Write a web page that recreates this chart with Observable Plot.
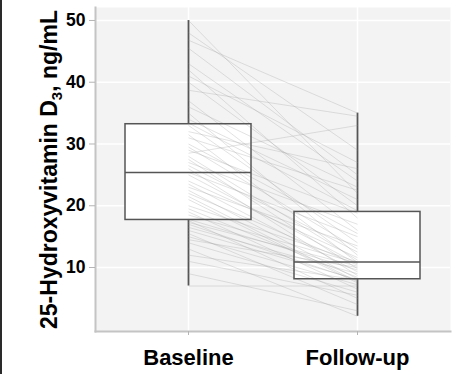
<!DOCTYPE html>
<html><head><meta charset="utf-8">
<script src="https://cdn.jsdelivr.net/npm/d3@7"></script>
<script src="https://cdn.jsdelivr.net/npm/@observablehq/plot@0.6"></script>
<style>
body{margin:0;background:#fff;}
#chart{position:relative;width:457px;height:374px;}
#edge{position:absolute;left:0;top:0;width:2px;height:374px;background:#2a2a2a;}
svg text{font-family:"Liberation Sans",Arial,sans-serif;}
</style></head><body><div id="chart"><div id="edge"></div></div>
<script>
const groups = ["Baseline", "Follow-up"];
// paired observations (same index = same participant)
const baseline = [50, 48, 46.8, 45.5, 43, 42, 41, 40, 38.7, 37, 36, 35, 34, 33.4, 33, 32, 31.5, 31, 30, 29.5,
  29, 28.5, 28, 27.5, 27, 26.5, 26, 25.4, 25, 24, 23.5, 23, 22.5, 22, 21.5, 21, 20, 19.5, 19, 18.5,
  17.8, 17.6, 17.3, 17, 16.5, 16, 15.5, 15, 14.5, 14, 13, 12, 11, 9, 7];
const followUp = [22, 29, 35, 25, 24, 18, 27, 20, 34.5, 16, 23, 12, 21, 19.2, 14, 26, 10.8, 22.5, 15.5, 13,
  18.8, 33, 11.2, 9.8, 17, 12.5, 8.7, 15, 10.6, 11.6, 9.3, 13.5, 8.15, 10.4, 7.7, 7.5, 10.9, 8.4, 6.5, 10.7,
  9.6, 5, 10.2, 7.9, 9, 8.05, 4, 7.2, 10, 6, 2.1, 8, 5.5, 3, 7];
const yTicks = [10, 20, 30, 40, 50];
const yLabelParts = ["25-Hydroxyvitamin D", "3", ", ng/mL"];

const pairs = baseline.map((b, i) => ({baseline: b, followUp: followUp[i]}));

function boxStats(group, values) {
  const v = values.slice().sort(d3.ascending);
  const q1 = d3.quantile(v, 0.25), median = d3.quantile(v, 0.5), q3 = d3.quantile(v, 0.75);
  const iqr = q3 - q1;
  const lo = d3.min(v.filter(d => d >= q1 - 1.5 * iqr));
  const hi = d3.max(v.filter(d => d <= q3 + 1.5 * iqr));
  return {group, q1, median, q3, lo, hi};
}
const boxes = [boxStats(groups[0], baseline), boxStats(groups[1], followUp)];

const boxStroke = "#555555";
const axisGrey = "#c4c4c4";

const chart = Plot.plot({
  width: 457,
  height: 374,
  marginLeft: 95,
  marginRight: 7,
  marginTop: 7,
  marginBottom: 43,
  style: {fontFamily: "'Liberation Sans', Arial, sans-serif", color: "black", background: "transparent", overflow: "visible"},
  x: {type: "band", domain: groups, paddingInner: 0.254, paddingOuter: 0.177, label: null},
  y: {domain: [-0.36, 52.1], label: null},
  marks: [
    Plot.frame({fill: "#f3f3f3", stroke: null}),
    Plot.gridY(yTicks, {stroke: "white", strokeOpacity: 1, strokeWidth: 1.5}),
    Plot.gridX({stroke: "white", strokeOpacity: 1, strokeWidth: 1.5}),
    Plot.frame({anchor: "left", stroke: axisGrey, strokeWidth: 2}),
    Plot.frame({anchor: "bottom", stroke: axisGrey, strokeWidth: 2}),
    Plot.ruleX(boxes, {x: "group", y1: "lo", y2: "q1", stroke: boxStroke, strokeWidth: 1.8}),
    Plot.ruleX(boxes, {x: "group", y1: "q3", y2: "hi", stroke: boxStroke, strokeWidth: 1.8}),
    Plot.barY(boxes, {x: "group", y1: "q1", y2: "q3", fill: "white"}),
    Plot.link(pairs, {x1: () => groups[0], y1: "baseline", x2: () => groups[1], y2: "followUp",
      stroke: "#a0a0a0", strokeOpacity: 0.3, strokeWidth: 1}),
    Plot.barY(boxes, {x: "group", y1: "q1", y2: "q3", fill: "none", stroke: boxStroke, strokeWidth: 1.5}),
    Plot.tickY(boxes, {x: "group", y: "median", stroke: boxStroke, strokeWidth: 1.5}),
    Plot.axisY(yTicks, {tickSize: 6, tickPadding: 4, stroke: "#b5b5b5", fontSize: 17.5, fontWeight: "bold",
      label: yLabelParts.join(""), labelAnchor: "center", labelArrow: "none", labelOffset: 55}),
    Plot.axisX({tickSize: 4, tickPadding: 14, stroke: "#b5b5b5", fontSize: 22, fontWeight: "bold"})
  ]
});
document.getElementById("chart").appendChild(chart);

// subscript in the y-axis label
const lab = chart.querySelector('g[aria-label="y-axis label"] text');
if (lab) {
  lab.style.fontSize = "23px";
  lab.style.fontWeight = "bold";
  while (lab.firstChild) lab.removeChild(lab.firstChild);
  const ns = "http://www.w3.org/2000/svg";
  lab.appendChild(document.createTextNode(yLabelParts[0]));
  const sub = document.createElementNS(ns, "tspan");
  sub.setAttribute("font-size", "15px");
  sub.setAttribute("dy", "5");
  sub.textContent = yLabelParts[1];
  lab.appendChild(sub);
  const rest = document.createElementNS(ns, "tspan");
  rest.setAttribute("dy", "-5");
  rest.textContent = yLabelParts[2];
  lab.appendChild(rest);
}
</script>
</body></html>
